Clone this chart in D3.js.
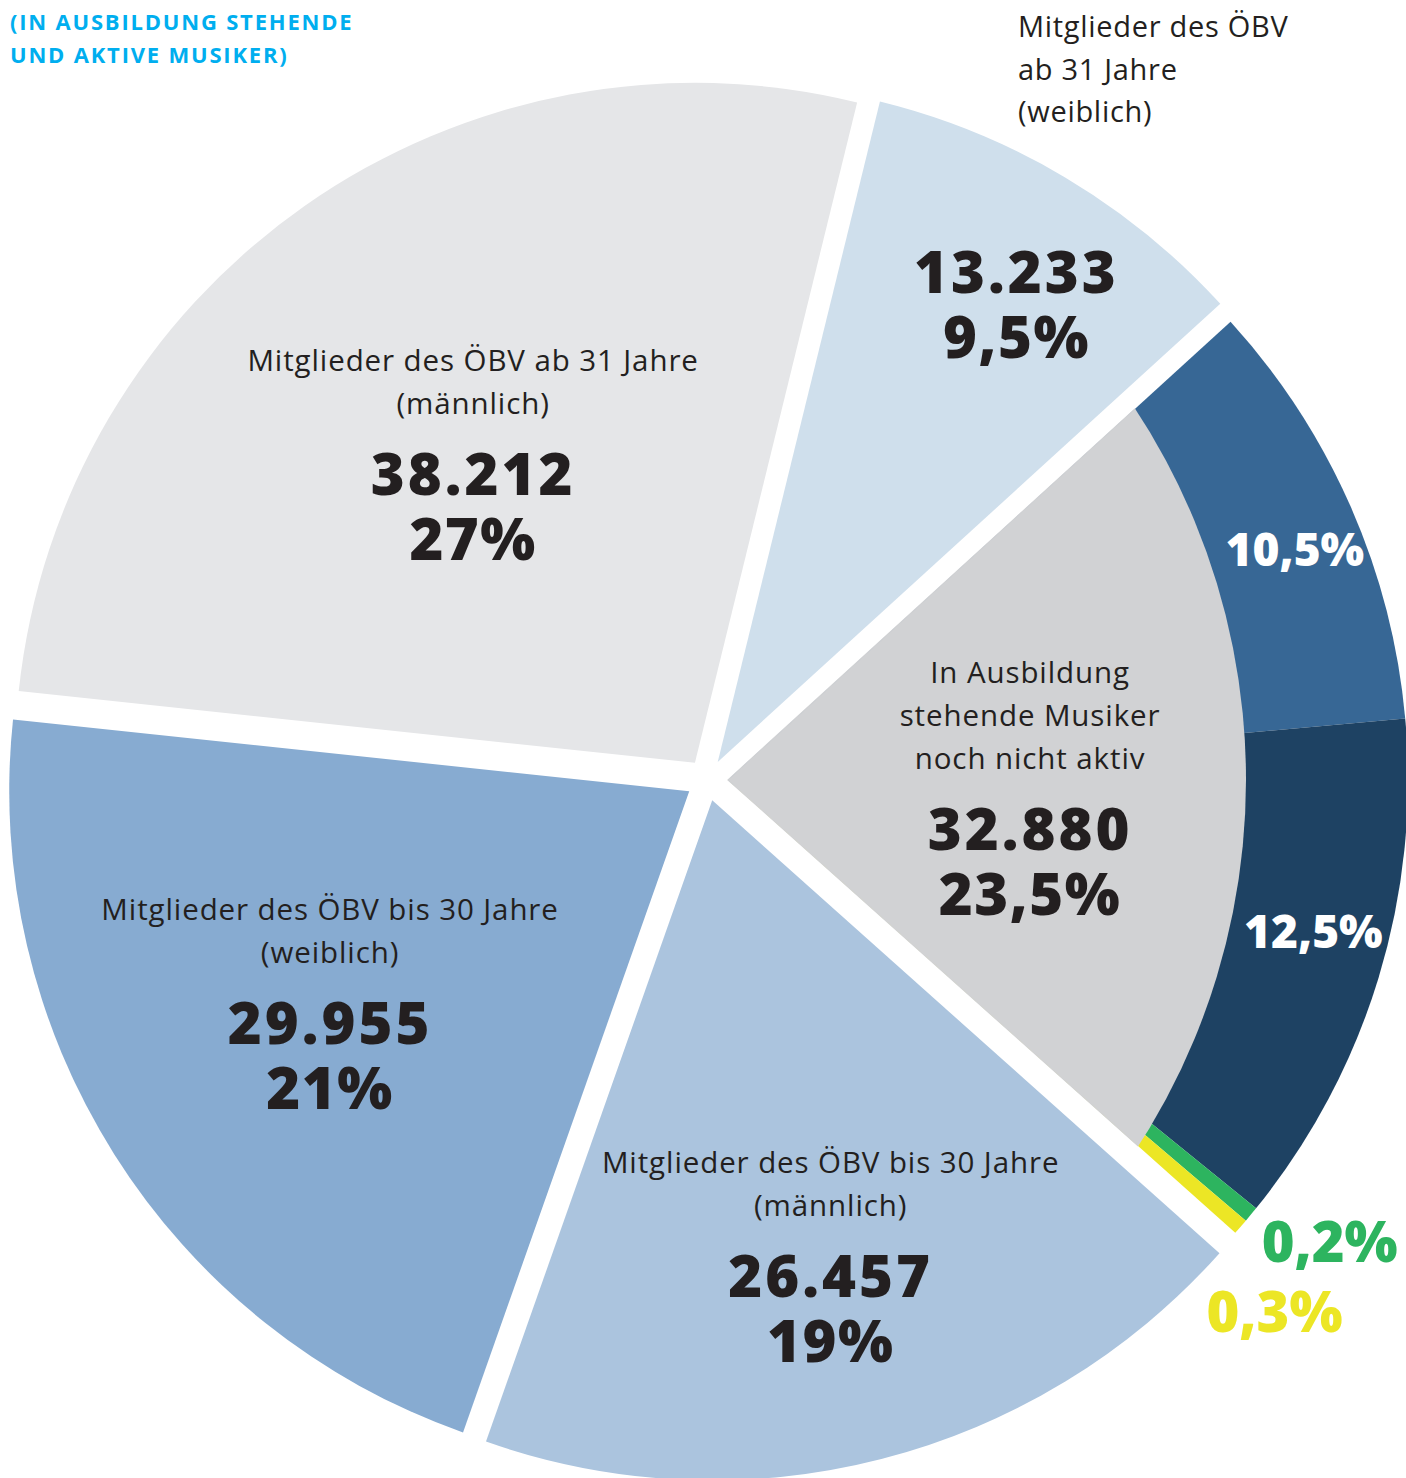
<!DOCTYPE html>
<html>
<head>
<meta charset="utf-8">
<script src="https://cdn.jsdelivr.net/npm/d3@7"></script>
<style>
  body { margin: 0; background: #fff; }
  svg { display: block; font-family: "Open Sans", sans-serif; }
</style>
</head>
<body>
<script>
// slices, clockwise from the top-right one
const categories = [
  "Mitglieder des ÖBV ab 31 Jahre (weiblich)",
  "In Ausbildung stehende Musiker noch nicht aktiv",
  "Mitglieder des ÖBV bis 30 Jahre (männlich)",
  "Mitglieder des ÖBV bis 30 Jahre (weiblich)",
  "Mitglieder des ÖBV ab 31 Jahre (männlich)"
];
const values = [13233, 32880, 26457, 29955, 38212];
const valueLabels = ["13.233", "32.880", "26.457", "29.955", "38.212"];
const pctLabels = ["9,5%", "23,5%", "19%", "21%", "27%"];
const nameLines = [
  [],
  ["In Ausbildung", "stehende Musiker", "noch nicht aktiv"],
  ["Mitglieder des ÖBV bis 30 Jahre", "(männlich)"],
  ["Mitglieder des ÖBV bis 30 Jahre", "(weiblich)"],
  ["Mitglieder des ÖBV ab 31 Jahre", "(männlich)"]
];
const outsideName = ["Mitglieder des ÖBV", "ab 31 Jahre", "(weiblich)"];
const colors = ["#cfdfec", "#d1d2d4", "#abc4de", "#87abd1", "#e5e6e8"];

// outer ring split of the "In Ausbildung" slice
const ringPct = [10.5, 12.5, 0.2, 0.3];
const ringLabels = ["10,5%", "12,5%", "0,2%", "0,3%"];
const ringColors = ["#376795", "#1e4263", "#2db45f", "#ece625"];

const title = ["(IN AUSBILDUNG STEHENDE", "UND AKTIVE MUSIKER)"];

const width = 1406, height = 1478;
const cx = 707, cy = 780, R = 680, explode = 21;
// the grey part of the split slice is cut by a circle whose centre sits left of the apex
const innerShift = 159, innerR = 677;
const rad = Math.PI / 180;
const start = 13.8 * rad;

// label anchors: [radius, angle in degrees] from the slice's shifted centre
const labelPolar = [[556, 32.5], [310, 103], [511, 166.6], [439, 234.9], [348, 320.4]];
const ringLabelPolar = [[606, 69.3], [609, 106], [771, 128.7], [777, 135.3]];
const ringLabelSize = [46, 46, 56, 56];

const svg = d3.select("body").append("svg")
    .attr("width", width)
    .attr("height", height);

const pie = d3.pie().sort(null).value(d => d)
    .startAngle(start).endAngle(start + 2 * Math.PI);
const arcs = pie(values);

const arc = d3.arc().innerRadius(0).outerRadius(R);
const shift = d => {
  const m = (d.startAngle + d.endAngle) / 2;
  return [cx + explode * Math.sin(m), cy - explode * Math.cos(m)];
};

// ring pieces share the angle of slice 1; the two tiny ones get a visible minimum width
const g1 = arcs[1];
const g1pos = shift(g1);
const minAng = 1.35 * rad;
const span = g1.endAngle - g1.startAngle;
const bigSum = d3.sum(ringPct.filter(v => v >= 1));
const rest = span - ringPct.filter(v => v < 1).length * minAng;
let a0 = g1.startAngle;
const ring = ringPct.map((v, i) => {
  const w = v < 1 ? minAng : rest * v / bigSum;
  const o = {startAngle: a0, endAngle: a0 + w, i};
  a0 += w;
  return o;
});

svg.append("defs").append("clipPath")
    .attr("id", "greyClip")
  .append("circle")
    .attr("cx", -innerShift)
    .attr("cy", 0)
    .attr("r", innerR);

const slice = svg.selectAll("g.slice")
  .data(arcs)
  .join("g")
    .attr("class", "slice")
    .attr("transform", d => `translate(${shift(d)})`);

slice.filter((d, i) => i === 1).selectAll("path.ring")
  .data(ring)
  .join("path")
    .attr("class", "ring")
    .attr("d", arc)
    .attr("fill", d => ringColors[d.i]);

slice.append("path")
    .attr("d", arc)
    .attr("clip-path", (d, i) => i === 1 ? "url(#greyClip)" : null)
    .attr("fill", (d, i) => colors[i])
    .attr("stroke", (d, i) => i === 1 ? colors[i] : "none")
    .attr("stroke-width", 1.2);

const polar = (p, r, a) => [p[0] + r * Math.sin(a * rad), p[1] - r * Math.cos(a * rad)];

// slice labels
arcs.forEach((d, i) => {
  const [x, y] = polar(shift(d), labelPolar[i][0], labelPolar[i][1]);
  const g = svg.append("g").attr("transform", `translate(${x},${y})`)
      .attr("text-anchor", "middle").attr("fill", "#231f20");
  const n = nameLines[i].length;
  nameLines[i].forEach((t, j) => {
    g.append("text").attr("y", -81 - 43 * (n - 1 - j))
        .attr("font-size", 29.5).attr("letter-spacing", 0.9).text(t);
  });
  g.append("text").attr("font-size", 58).attr("font-weight", 800)
      .attr("letter-spacing", 3).text(valueLabels[i]);
  g.append("text").attr("y", 65).attr("font-size", 58).attr("font-weight", 800)
      .attr("letter-spacing", 1.5).text(pctLabels[i]);
});

// ring labels
ring.forEach((d, i) => {
  const [x, y] = polar(g1pos, ringLabelPolar[i][0], ringLabelPolar[i][1]);
  svg.append("text")
      .attr("x", x).attr("y", y)
      .attr("text-anchor", "middle")
      .attr("font-size", ringLabelSize[i])
      .attr("font-weight", 800)
      .attr("fill", i < 2 ? "#fff" : ringColors[i])
      .text(ringLabels[i]);
});

// outside label for the top-right slice
svg.append("g").selectAll("text")
  .data(outsideName)
  .join("text")
    .attr("x", 1018)
    .attr("y", (d, i) => 37 + 42.5 * i)
    .attr("font-size", 29)
    .attr("letter-spacing", 0.7)
    .attr("fill", "#231f20")
    .text(d => d);

svg.append("g").selectAll("text")
  .data(title)
  .join("text")
    .attr("x", 10)
    .attr("y", (d, i) => 30 + 33 * i)
    .attr("font-size", 22)
    .attr("font-weight", 700)
    .attr("letter-spacing", 1.8)
    .attr("fill", "#00aeef")
    .text(d => d);
</script>
</body>
</html>
